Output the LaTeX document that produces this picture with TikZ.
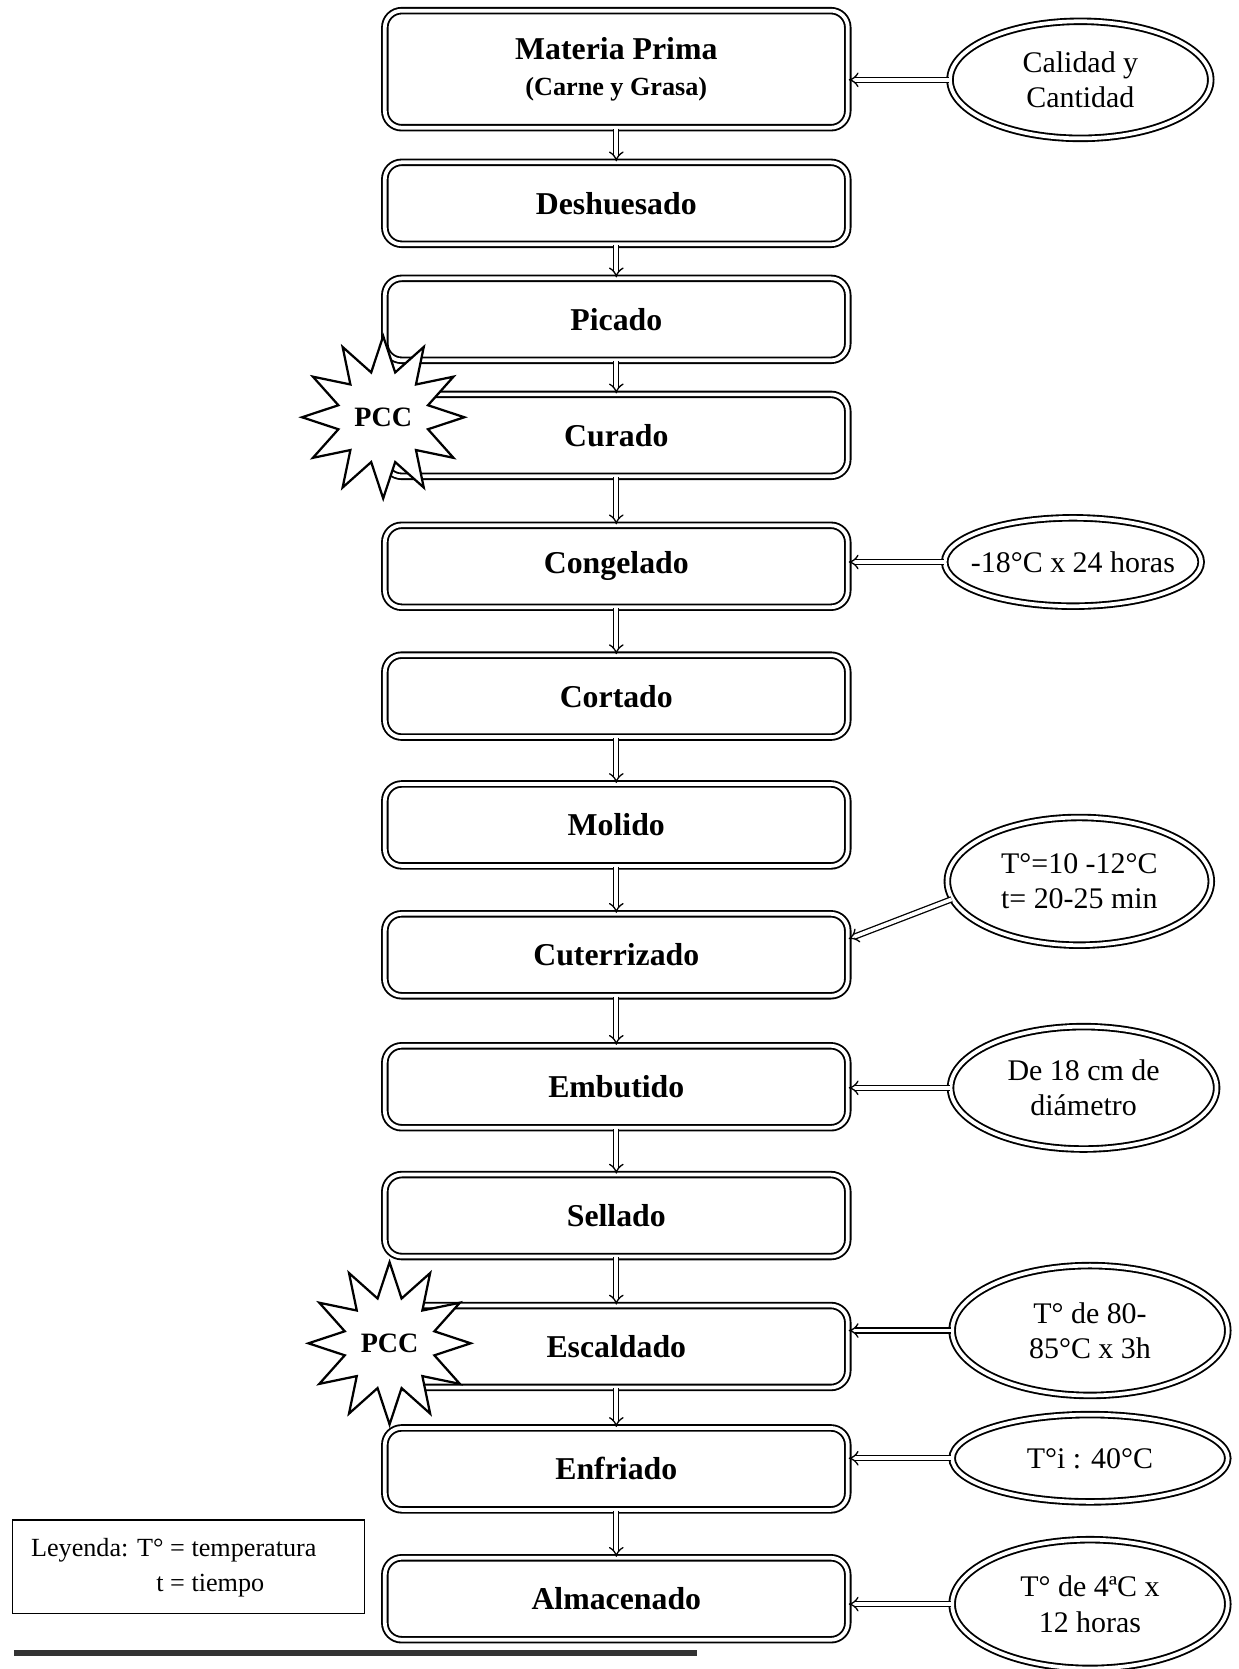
\documentclass[tikz,border=0pt]{standalone}
\usepackage{fontspec}
\setmainfont{Liberation Serif}
\usepackage{tikz}
\usetikzlibrary{positioning, arrows.meta, shapes.geometric}

\tikzset{
    procbox/.style={draw, rounded corners=9pt, double, double distance=2pt, line width=1pt,
        fill=white, minimum width=8.7cm, minimum height=1.54cm, align=center,
        font=\bfseries\fontsize{17}{20}\selectfont},
    cond/.style={ellipse, draw, double, double distance=2pt, line width=1pt, inner sep=0pt,
        fill=white, align=center, font=\fontsize{16}{19}\selectfont},
    flow/.style={double, double distance=2pt, line width=0.7pt, -{Implies}},
    pcc/.style={star, star points=12, star point ratio=1.75, draw, fill=white, line width=1.2pt,
        inner sep=0pt, minimum size=3.05cm, font=\bfseries\fontsize{15}{18}\selectfont}
}

\begin{document}
\begin{tikzpicture}[x=0.02cm, y=-0.02cm]
            \useasboundingbox (0,0) rectangle (1164,1568);
            % etapas del proceso
            \node[procbox, minimum height=2.2cm] (mp) at (579,65)
                {Materia Prima\\[-1pt]{\fontsize{14}{16}\selectfont(Carne y Grasa)}};
            \node[procbox] (des) at (579,191) {Deshuesado};
            \node[procbox] (pic) at (579,300) {Picado};
            \node[procbox] (cur) at (579,409) {Curado};
            \node[procbox] (cong) at (579,532) {Congelado};
            \node[procbox] (cort) at (579,654) {Cortado};
            \node[procbox] (mol) at (579,775) {Molido};
            \node[procbox] (cute) at (579,897) {Cuterrizado};
            \node[procbox] (emb) at (579,1021) {Embutido};
            \node[procbox] (sel) at (579,1142) {Sellado};
            \node[procbox] (esc) at (579,1265) {Escaldado};
            \node[procbox] (enf) at (579,1380) {Enfriado};
            \node[procbox] (alm) at (579,1502) {Almacenado};
            \foreach \a/\b in {mp/des, des/pic, pic/cur, cur/cong, cong/cort, cort/mol,
                mol/cute, cute/emb, emb/sel, sel/esc, esc/enf, enf/alm} {
                \draw[flow] (\a) -- (\b);
            }
            % condiciones
            \node[cond, minimum width=4.9cm, minimum height=2.2cm] (ccal) at (1015,75) {Calidad y\\Cantidad};
            \node[cond, inner xsep=-0.6cm, minimum width=4.82cm, minimum height=1.66cm] (ccong) at (1008,528)
                {-18°C x 24 horas};
            \node[cond, minimum width=4.96cm, minimum height=2.4cm] (ccute) at (1014,828) {T°=10 -12°C\\t= 20-25 min};
            \node[cond, minimum width=5cm, minimum height=2.3cm] (cemb) at (1018,1022) {De 18 cm de\\diámetro};
            \node[cond, minimum width=5.18cm, minimum height=2.44cm] (cesc) at (1024,1250) {T° de 80-\\85°C x 3h};
            \node[cond, minimum width=5.18cm, minimum height=1.64cm] (cenf) at (1024,1370) {T°i : 40°C};
            \node[cond, minimum width=5.18cm, minimum height=2.42cm] (calm) at (1024,1507) {T° de 4ªC x\\12 horas};
            \draw[flow] (ccal.west) -- (ccal.west -| mp.east);
            \draw[flow] (ccong.west) -- (ccong.west -| cong.east);
            \draw[flow] (ccute.188) -- ([yshift=0.3cm]cute.east);
            \draw[flow] (cemb.west) -- (cemb.west -| emb.east);
            \draw[flow] (cesc.west) -- (cesc.west -| esc.east);
            \draw[flow] (cenf.west) -- (cenf.west -| enf.east);
            \draw[flow] (calm.west) -- (calm.west -| alm.east);
            % puntos criticos
            \node[pcc] (pcc1) at (360,392) {PCC};
            \node[pcc] (pcc2) at (366,1262) {PCC};
            % leyenda
            \node[draw, thick, minimum width=6.62cm, minimum height=1.76cm] (ley) at (177,1472) {};
            \node[anchor=west, inner sep=0pt, font=\fontsize{14}{18.5}\selectfont] (leytxt) at ([xshift=0.36cm]ley.west)
                {\begin{tabular}{@{}r@{ }l@{}}Leyenda: T° & = temperatura\\ t & = tiempo\end{tabular}};
            \coordinate (r1) at (13,1553);
            \coordinate (r2) at (655,1553);
            \draw[line width=3pt, black!80] (r1) -- (r2);
        \end{tikzpicture}
\end{document}
